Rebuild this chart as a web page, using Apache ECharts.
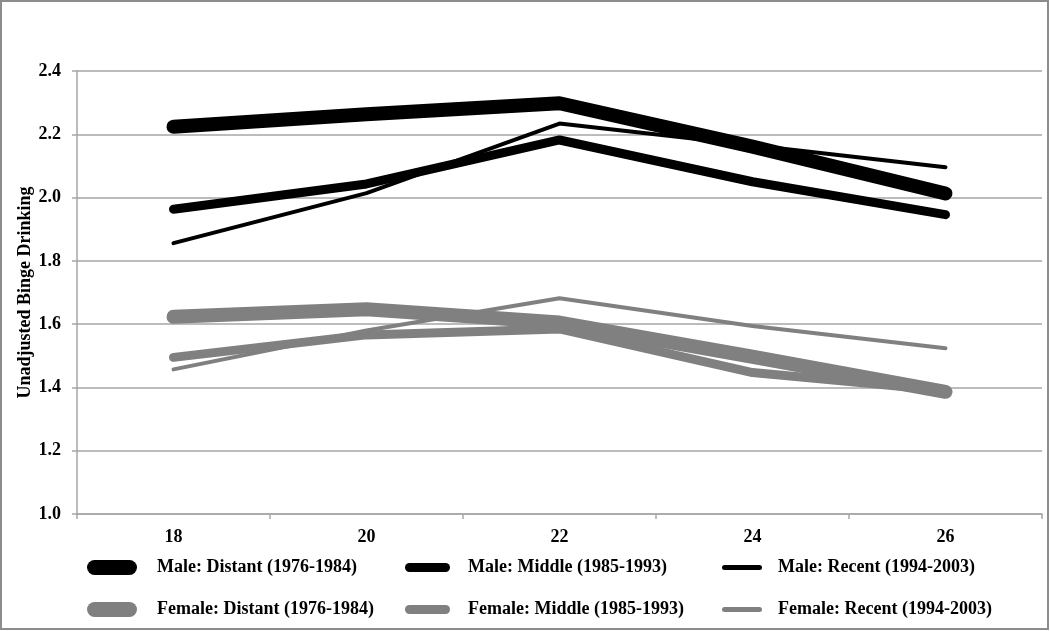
<!DOCTYPE html>
<html>
<head>
<meta charset="utf-8">
<script src="https://cdn.jsdelivr.net/npm/echarts@6/dist/echarts.min.js"></script>
<style>
html,body{margin:0;padding:0;background:#fff;}
#chart{width:1050px;height:631px;}
</style>
</head>
<body>
<div id="chart"></div>
<script>
const ages = ['18', '20', '22', '24', '26'];
const maleDistant   = [2.224, 2.263, 2.298, 2.161, 2.013];
const maleMiddle    = [1.963, 2.043, 2.182, 2.050, 1.946];
const maleRecent    = [1.856, 2.014, 2.234, 2.165, 2.096];
const femaleDistant = [1.623, 1.647, 1.605, 1.497, 1.386];
const femaleMiddle  = [1.495, 1.566, 1.585, 1.447, 1.390];
const femaleRecent  = [1.457, 1.580, 1.682, 1.594, 1.524];
const seriesNames = [
  'Male: Distant (1976-1984)', 'Male: Middle (1985-1993)', 'Male: Recent (1994-2003)',
  'Female: Distant (1976-1984)', 'Female: Middle (1985-1993)', 'Female: Recent (1994-2003)'
];
const yAxisTitle = 'Unadjusted Binge Drinking';

const FONT = "'Liberation Serif', 'Times New Roman', serif";
const BLACK = '#000000', GREY = '#808080', AXIS = '#a6a6a6';

const widths = [14, 9, 4];
const seriesData = [maleDistant, maleMiddle, maleRecent, femaleDistant, femaleMiddle, femaleRecent];

function mkSeries(i) {
  const color = i < 3 ? BLACK : GREY;
  return {
    name: seriesNames[i],
    type: 'line',
    data: seriesData[i],
    symbol: 'none',
    color: color,
    lineStyle: { color: color, width: widths[i % 3], cap: 'round', join: 'round' },
    z: 10 - i,
    silent: true
  };
}

const icons = [
  {w: 50, h: 15, path: 'path://M7.5,0H42.5A7.5,7.5,0,0,1,42.5,15H7.5A7.5,7.5,0,0,1,7.5,0Z', left: 87, pad: 15},
  {w: 45, h: 9, path: 'path://M4.5,0H40.5A4.5,4.5,0,0,1,40.5,9H4.5A4.5,4.5,0,0,1,4.5,0Z', left: 405, pad: 13},
  {w: 40, h: 5, path: 'path://M2.5,0H37.5A2.5,2.5,0,0,1,37.5,5H2.5A2.5,2.5,0,0,1,2.5,0Z', left: 722, pad: 11}
];
const rowCenters = [567.5, 609.5];

const legends = seriesNames.map((n, i) => {
  const ic = icons[i % 3];
  const row = Math.floor(i / 3);
  return {
    data: [n],
    icon: ic.path,
    itemWidth: ic.w,
    itemHeight: ic.h,
    left: ic.left,
    top: rowCenters[row] - 10,
    padding: 0,
    selectedMode: false,
    itemStyle: { borderWidth: 0 },
    textStyle: { fontFamily: FONT, fontWeight: 'bold', fontSize: 18, color: '#000', lineHeight: 20, padding: [0, 0, 0, ic.pad] }
  };
});

const chart = echarts.init(document.getElementById('chart'), null, {renderer: 'canvas'});
chart.setOption({
  animation: false,
  backgroundColor: '#ffffff',
  grid: { left: 77, right: 8, top: 71, bottom: 117, containLabel: false },
  legend: legends,
  xAxis: {
    type: 'category',
    data: ages,
    boundaryGap: true,
    axisLine: { lineStyle: { color: AXIS, width: 1.5 } },
    axisTick: { show: true, length: 5, alignWithLabel: false, lineStyle: { color: AXIS, width: 1.5 } },
    axisLabel: { fontFamily: FONT, fontWeight: 'bold', fontSize: 18, color: '#000', margin: 14 },
    splitLine: { show: false }
  },
  yAxis: {
    type: 'value',
    min: 1.0, max: 2.4, interval: 0.2,
    name: yAxisTitle,
    nameLocation: 'middle',
    nameRotate: 90,
    nameGap: 43,
    nameMoveOverlap: false,
    nameTextStyle: { fontFamily: FONT, fontWeight: 'bold', fontSize: 18, color: '#000' },
    axisLine: { show: true, lineStyle: { color: AXIS, width: 1.5 } },
    axisTick: { show: true, length: 5, lineStyle: { color: AXIS, width: 1.5 } },
    axisLabel: { fontFamily: FONT, fontWeight: 'bold', fontSize: 18, color: '#000', margin: 16,
      formatter: v => v.toFixed(1) },
    splitLine: { show: true, lineStyle: { color: AXIS, width: 1.5 } }
  },
  graphic: [{
    type: 'rect', silent: true, z: 100,
    shape: { x: 1, y: 1, width: 1047, height: 628 },
    style: { fill: 'none', stroke: '#8c8c8c', lineWidth: 2 }
  }],
  series: seriesNames.map((n, i) => mkSeries(i))
});
</script>
</body>
</html>
